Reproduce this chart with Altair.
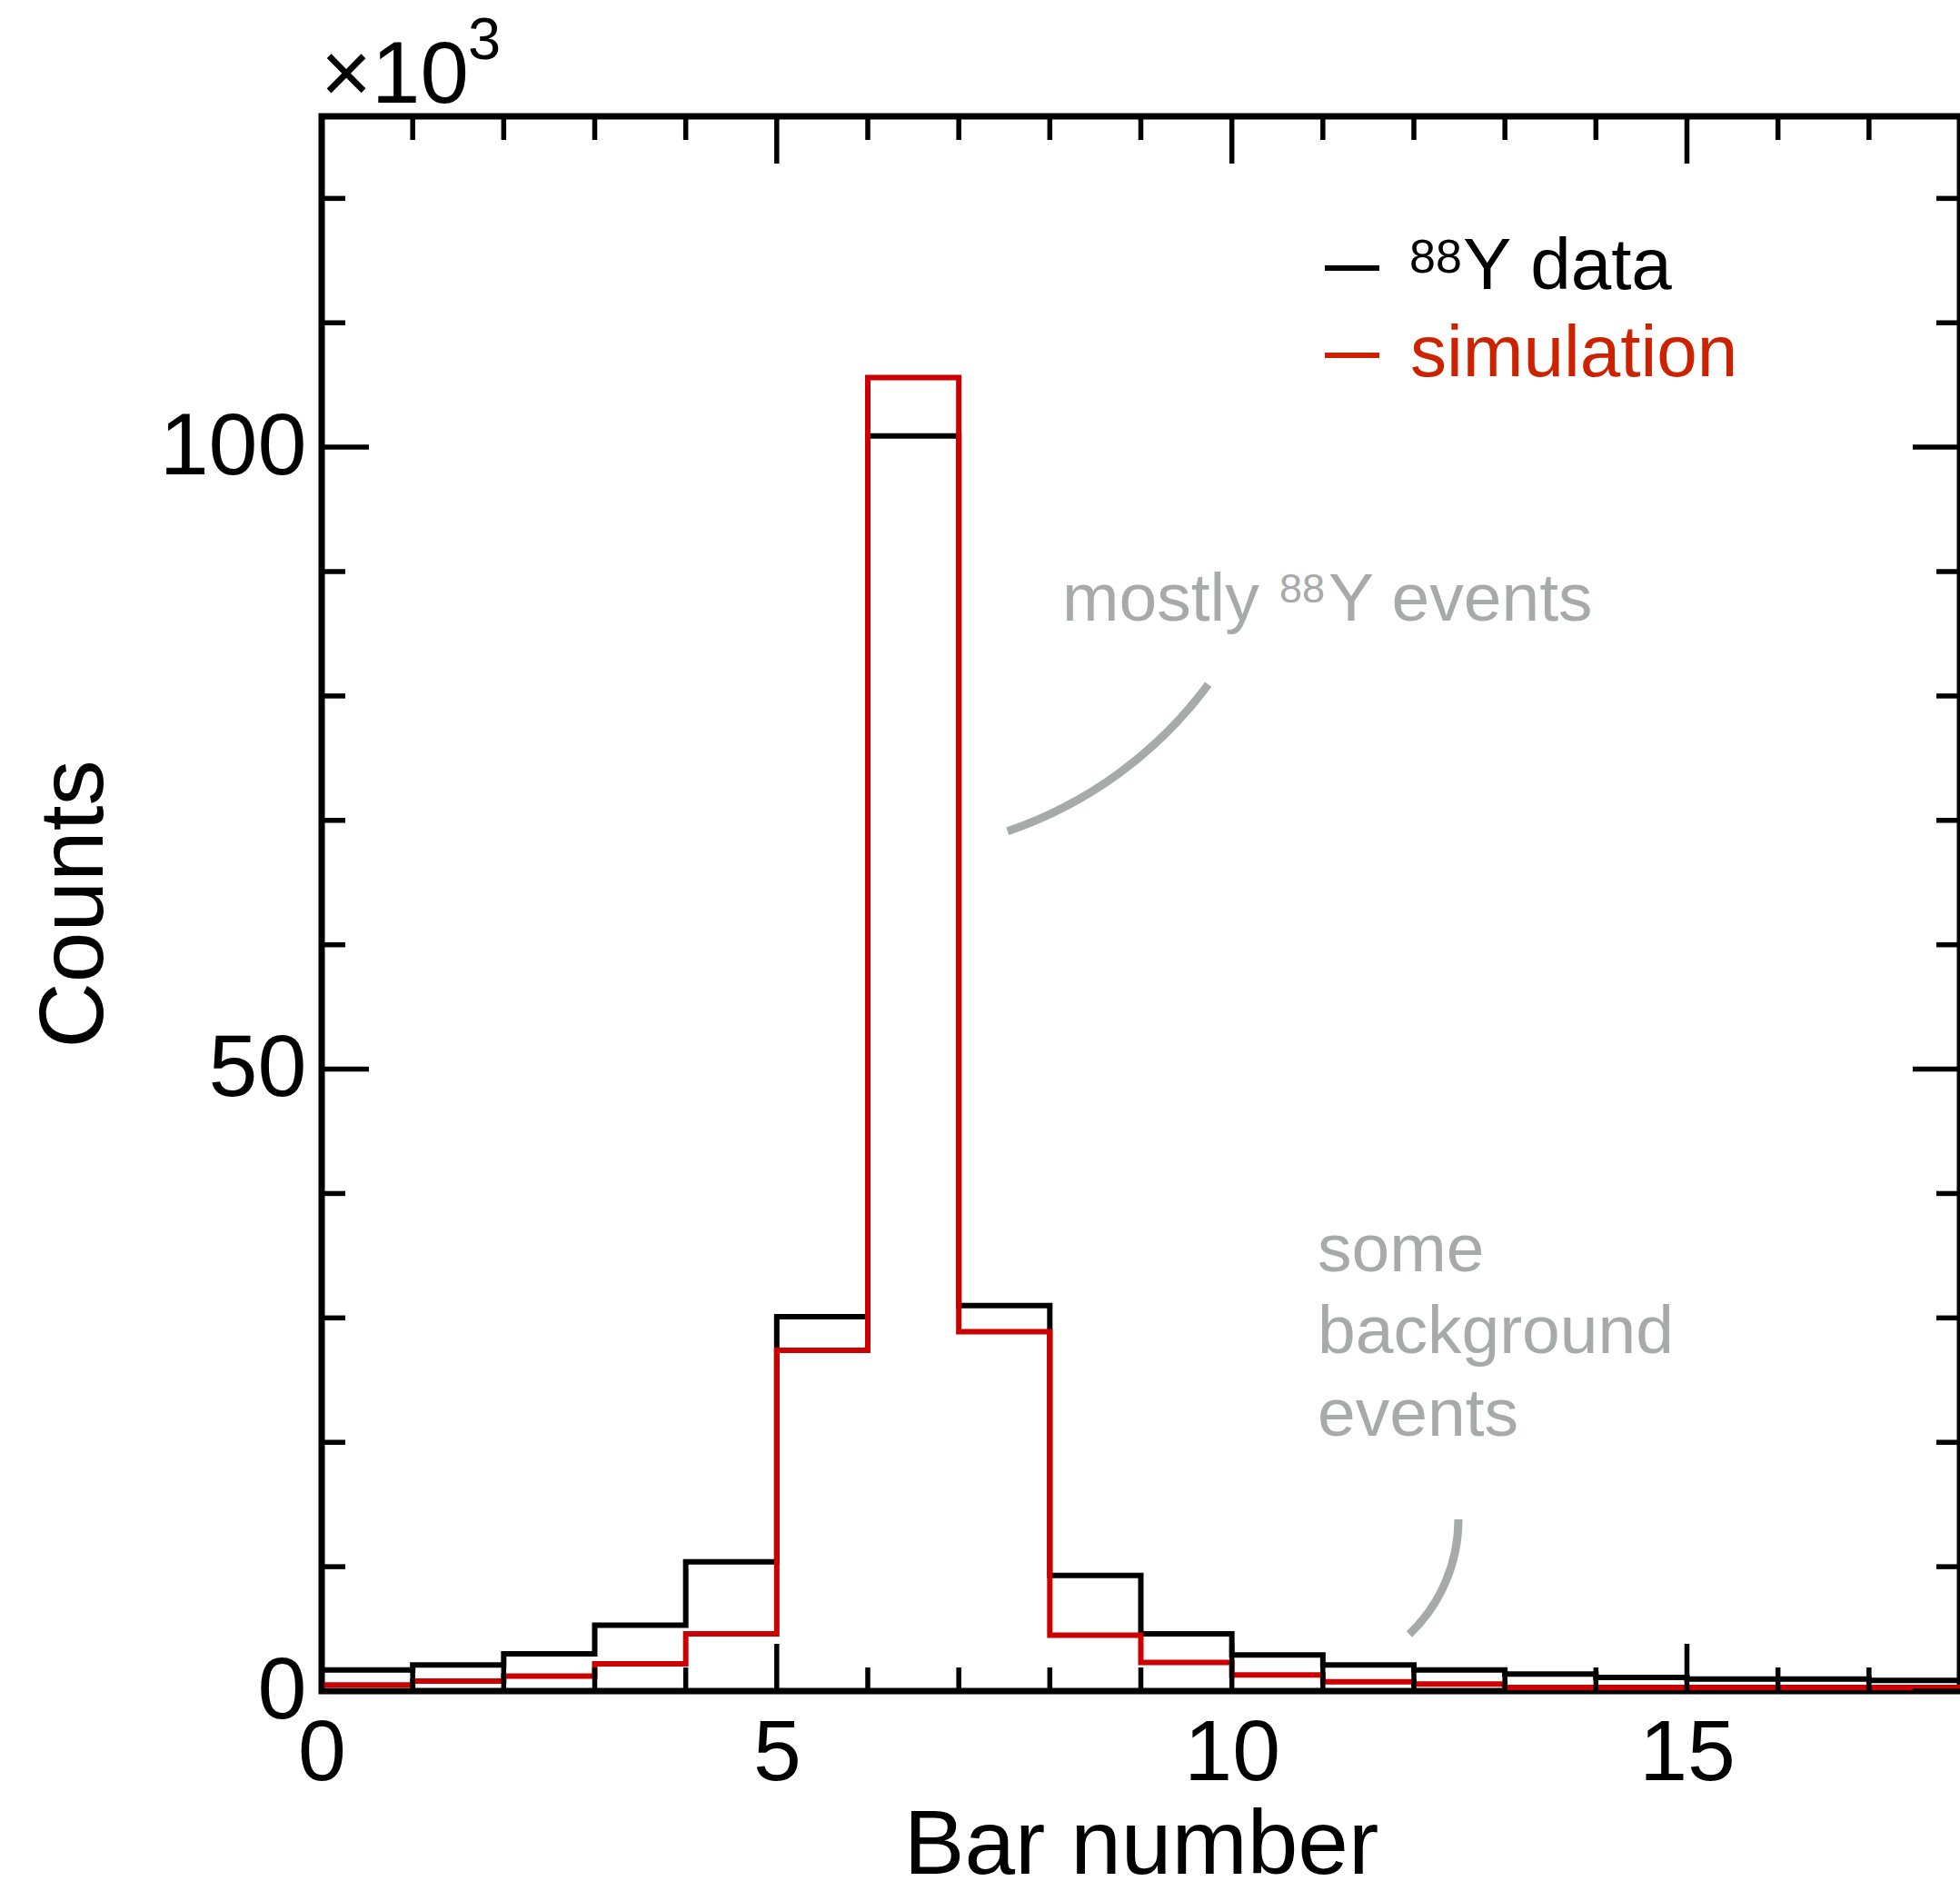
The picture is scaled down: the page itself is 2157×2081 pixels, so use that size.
import altair as alt
import pandas as pd

# ---- data (counts in thousands) ----
bin_edges = [0, 1, 2, 3, 4, 5, 6, 7, 8, 9, 10, 11, 12, 13, 14, 15, 16, 17, 18]
data_counts = [1.7, 2.1, 3.0, 5.3, 10.4, 30.1, 100.9, 31.0, 9.3, 4.6, 2.9, 2.1, 1.7, 1.37, 1.1, 0.97, 0.97, 0.85]
sim_counts = [0.5, 0.8, 1.2, 2.2, 4.6, 27.4, 105.6, 28.9, 4.5, 2.3, 1.3, 0.75, 0.56, 0.29, 0.29, 0.29, 0.29, 0.29]

x_major = [0, 5, 10, 15]
x_minor = [1, 2, 3, 4, 6, 7, 8, 9, 11, 12, 13, 14, 16, 17]
y_major = [0, 50, 100]
y_minor = [10, 20, 30, 40, 60, 70, 80, 90, 110, 120]

X_DOMAIN = [0, 18]
Y_DOMAIN = [0, 126.6]

W, H = 1803, 1733
LEFT, TOP = 354, 128
FONT = "Liberation Sans"
GREY = "#a6aaa8"
MAJ, MIN = 52, 26


def step_rows(values, name):
    rows = []
    for i, v in enumerate(values):
        rows.append({"x": bin_edges[i], "y": v, "s": name})
    rows.append({"x": bin_edges[len(values)], "y": values[-1], "s": name})
    return rows


hist_df = pd.DataFrame(step_rows(data_counts, "data") + step_rows(sim_counts, "sim"))

xs = alt.Scale(domain=X_DOMAIN, nice=False, zero=False)
ys = alt.Scale(domain=Y_DOMAIN, nice=False, zero=False)

x_axis = alt.Axis(values=x_major, ticks=False, domain=False, grid=False,
                  labelFontSize=95, labelFont=FONT, labelColor="black",
                  labelPadding=22, labelFlush=False, labelOverlap=False,
                  title="Bar number", titleFont=FONT, titleFontSize=100,
                  titleFontWeight="normal", titleColor="black",
                  titleX=W / 2, titleY=200, titleBaseline="alphabetic",
                  titleAlign="center")
y_axis = alt.Axis(values=y_major, ticks=False, domain=False, grid=False,
                  labelFontSize=97, labelFont=FONT, labelColor="black",
                  labelPadding=17, labelFlush=False, labelOverlap=False,
                  title="Counts", titleFont=FONT, titleFontSize=100,
                  titleFontWeight="normal", titleColor="black",
                  titleX=112 - LEFT, titleY=H / 2, titleBaseline="alphabetic",
                  titleAlign="center", titleAngle=270)

hist = alt.Chart(hist_df).mark_line(interpolate="step-after", strokeWidth=6).encode(
    x=alt.X("x:Q", scale=xs, axis=x_axis),
    y=alt.Y("y:Q", scale=ys, axis=y_axis),
    color=alt.Color("s:N", scale=alt.Scale(domain=["data", "sim"], range=["#000000", "#cc0000"]), legend=None),
    order=alt.Order("x:Q"),
)


def xticks(vals, length, top):
    base = alt.Chart(pd.DataFrame({"v": vals})).mark_rule(color="black", strokeWidth=5.5)
    if top:
        return base.encode(x=alt.X("v:Q", scale=xs, axis=None), y=alt.value(0), y2=alt.value(length))
    return base.encode(x=alt.X("v:Q", scale=xs, axis=None), y=alt.value(H), y2=alt.value(H - length))


def yticks(vals, length, right):
    base = alt.Chart(pd.DataFrame({"v": vals})).mark_rule(color="black", strokeWidth=5.5)
    if right:
        return base.encode(y=alt.Y("v:Q", scale=ys, axis=None), x=alt.value(W), x2=alt.value(W - length))
    return base.encode(y=alt.Y("v:Q", scale=ys, axis=None), x=alt.value(0), x2=alt.value(length))


ticks = [
    xticks(x_major, MAJ, False), xticks(x_minor, MIN, False),
    xticks(x_major, MAJ, True), xticks(x_minor, MIN, True),
    yticks(y_major, MAJ, False), yticks(y_minor, MIN, False),
    yticks(y_major, MAJ, True), yticks(y_minor, MIN, True),
]

one = pd.DataFrame({"a": [0]})


def txt(s, px, py, size, color="black"):
    return alt.Chart(one).mark_text(align="left", baseline="alphabetic", font=FONT,
                                    fontSize=size, color=color).encode(
        x=alt.value(px - LEFT), y=alt.value(py - TOP), text=alt.value(s))


def legline(py, color):
    return alt.Chart(one).mark_rule(color=color, strokeWidth=6).encode(
        x=alt.value(1458 - LEFT), x2=alt.value(1518 - LEFT), y=alt.value(py - TOP))


def arc(cx, cy, r, t1, t2):
    return alt.Chart(one).mark_arc(innerRadius=r - 4.5, outerRadius=r + 4.5,
                                   theta=t1, theta2=t2, color=GREY).encode(
        x=alt.value(cx - LEFT), y=alt.value(cy - TOP))


texts = [
    txt("\u00d710", 353, 113, 96),
    txt("3", 515, 65, 65),
    legline(295, "black"),
    legline(391, "#cc2200"),
    txt("88", 1551, 300, 52),
    txt("Y data", 1610, 318, 80),
    txt("simulation", 1552, 414, 80, "#cc2200"),
    txt("mostly", 1169, 683, 75, GREY),
    txt("88", 1408, 663, 45, GREY),
    txt("Y events", 1462, 683, 75, GREY),
    txt("some", 1450, 1399, 75, GREY),
    txt("background", 1450, 1489, 75, GREY),
    txt("events", 1450, 1580, 75, GREY),
    arc(961.8, 482, 457, 2.206, 2.814),
    arc(1430, 1672, 175, 1.5708, 2.378),
]

chart = alt.layer(hist, *ticks, *texts).resolve_axis(
    x="independent", y="independent"
).properties(
    width=W, height=H,
    autosize=alt.AutoSizeParams(type="none"),
    padding={"left": LEFT, "top": TOP, "right": 0, "bottom": 2081 - TOP - H},
    background="white",
).configure_view(stroke="black", strokeWidth=7)

chart.save("out.html", embed_options={"renderer": "svg", "actions": False})
